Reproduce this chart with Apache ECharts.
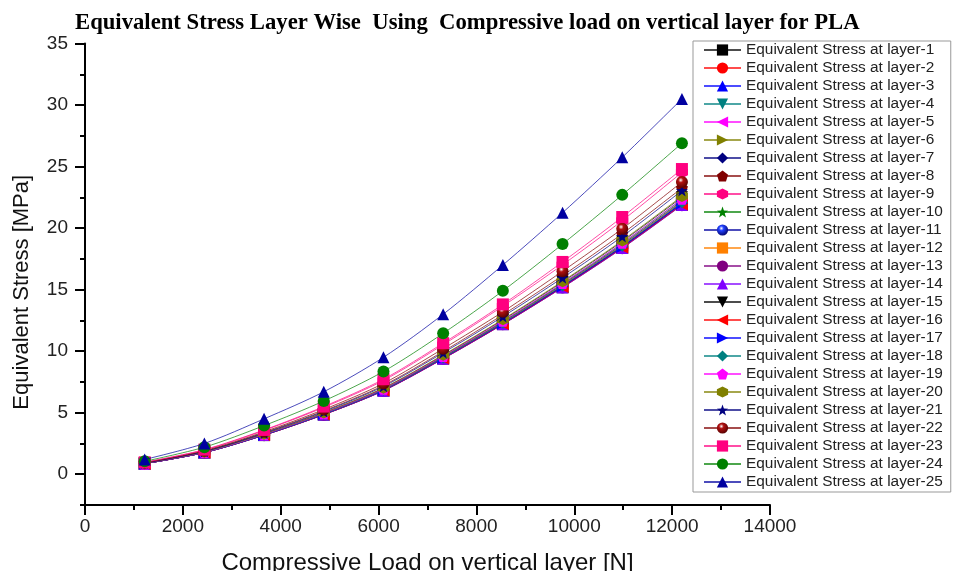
<!DOCTYPE html>
<html>
<head>
<meta charset="utf-8">
<script src="https://cdn.jsdelivr.net/npm/echarts@6/dist/echarts.min.js"></script>
<style>html,body{margin:0;padding:0;background:#fff}#c{width:956px;height:571px}</style>
</head>
<body>
<div id="c"></div>
<script>
// ---- data ----
const loads = [1220, 2440, 3660, 4880, 6100, 7320, 8540, 9760, 10980, 12200];
const layer1  = [0.86, 1.76, 3.18, 4.85, 6.80, 9.40, 12.20, 15.20, 18.40, 21.90];
const layer2  = [0.86, 1.77, 3.19, 4.86, 6.82, 9.43, 12.24, 15.25, 18.46, 21.97];
const layer3  = [0.86, 1.77, 3.20, 4.87, 6.83, 9.45, 12.26, 15.28, 18.49, 22.01];
const layer4  = [0.87, 1.77, 3.21, 4.89, 6.85, 9.48, 12.30, 15.32, 18.55, 22.08];
const layer5  = [0.87, 1.78, 3.21, 4.90, 6.87, 9.49, 12.32, 15.35, 18.58, 22.12];
const layer6  = [0.87, 1.78, 3.22, 4.91, 6.89, 9.52, 12.36, 15.40, 18.64, 22.18];
const layer7  = [0.87, 1.77, 3.20, 4.88, 6.84, 9.46, 12.27, 15.29, 18.51, 22.03];
const layer8  = [0.91, 1.87, 3.38, 5.15, 7.22, 9.98, 12.96, 16.14, 19.54, 23.26];
const layer9  = [0.96, 1.97, 3.56, 5.43, 7.62, 10.53, 13.66, 17.02, 20.61, 24.53];
const layer10 = [0.88, 1.80, 3.24, 4.95, 6.94, 9.59, 12.44, 15.50, 18.77, 22.34];
const layer11 = [0.87, 1.79, 3.23, 4.92, 6.90, 9.54, 12.38, 15.43, 18.68, 22.23];
const layer12 = [0.87, 1.78, 3.22, 4.90, 6.87, 9.50, 12.33, 15.37, 18.60, 22.14];
const layer13 = [0.86, 1.76, 3.17, 4.84, 6.79, 9.38, 12.18, 15.17, 18.36, 21.86];
const layer14 = [0.86, 1.76, 3.18, 4.85, 6.79, 9.39, 12.19, 15.18, 18.38, 21.88];
const layer15 = [0.88, 1.81, 3.27, 4.99, 6.99, 9.66, 12.54, 15.63, 18.92, 22.51];
const layer16 = [0.86, 1.76, 3.18, 4.85, 6.81, 9.41, 12.21, 15.22, 18.42, 21.92];
const layer17 = [0.86, 1.77, 3.19, 4.87, 6.83, 9.44, 12.25, 15.26, 18.47, 21.99];
const layer18 = [0.87, 1.78, 3.21, 4.89, 6.86, 9.48, 12.31, 15.34, 18.57, 22.10];
const layer19 = [0.88, 1.80, 3.25, 4.96, 6.95, 9.61, 12.47, 15.53, 18.80, 22.38];
const layer20 = [0.89, 1.82, 3.28, 5.01, 7.02, 9.70, 12.59, 15.69, 18.99, 22.60];
const layer21 = [0.90, 1.85, 3.34, 5.09, 7.14, 9.87, 12.81, 15.96, 19.32, 23.05];
const layer22 = [0.93, 1.91, 3.45, 5.26, 7.38, 10.20, 13.20, 16.50, 19.95, 23.75];
const layer23 = [0.97, 2.00, 3.60, 5.50, 7.72, 10.65, 13.80, 17.25, 20.90, 24.80];
const layer24 = [1.05, 2.20, 3.95, 5.95, 8.35, 11.45, 14.90, 18.70, 22.70, 26.90];
const layer25 = [1.20, 2.50, 4.50, 6.70, 9.50, 13.00, 17.00, 21.25, 25.75, 30.50];
const layers = [layer1, layer2, layer3, layer4, layer5, layer6, layer7, layer8, layer9, layer10,
  layer11, layer12, layer13, layer14, layer15, layer16, layer17, layer18, layer19, layer20,
  layer21, layer22, layer23, layer24, layer25];
const seriesNames = layers.map((_, i) => 'Equivalent Stress at layer-' + (i + 1));
const yMajorTicks = [0, 5, 10, 15, 20, 25, 30, 35];

// ---- styles ----
const P = {
  down: 'path://M-10,-9 L10,-9 L0,9 Z',
  left: 'path://M9,-10 L9,10 L-9,0 Z',
  right: 'path://M-9,-10 L-9,10 L9,0 Z',
  pent: 'path://M0,-10 L9.51,-3.09 L5.88,8.09 L-5.88,8.09 L-9.51,-3.09 Z',
  hex: 'path://M0,-10 L8.66,-5 L8.66,5 L0,10 L-8.66,5 L-8.66,-5 Z',
  star: 'path://M0,-10 L2.35,-3.24 L9.51,-3.09 L3.8,1.24 L5.88,8.09 L0,4 L-5.88,8.09 L-3.8,1.24 L-9.51,-3.09 L-2.35,-3.24 Z'
};
function ball(c1, c2) {
  return {type: 'radial', x: 0.4, y: 0.35, r: 0.7,
    colorStops: [{offset: 0, color: '#ffffff'}, {offset: 0.3, color: c1}, {offset: 1, color: c2}]};
}
const styles = [
  ['rect', '#000000'], ['circle', '#ff0000'], ['triangle', '#0000ff'], [P.down, '#008080'],
  [P.left, '#ff00ff'], [P.right, '#808000'], ['diamond', '#000080'], [P.pent, '#800000'],
  [P.hex, '#ff0080'], [P.star, '#008000'], ['circle', '#0000a0', ball('#2040ff', '#000060')],
  ['rect', '#ff8000'], ['circle', '#800080'], ['triangle', '#8000ff'], [P.down, '#000000'],
  [P.left, '#ff0000'], [P.right, '#0000ff'], ['diamond', '#008080'], [P.pent, '#ff00ff'],
  [P.hex, '#808000'], [P.star, '#000080'], ['circle', '#800000', ball('#b01010', '#500000')],
  ['rect', '#ff0080'], ['circle', '#008000'], ['triangle', '#0000a0']
];

const series = layers.map((arr, i) => ({
  name: seriesNames[i],
  type: 'line',
  smooth: 0.3,
  data: loads.map((x, j) => [x, arr[j]]),
  symbol: styles[i][0],
  symbolSize: 12,
  showSymbol: true,
  lineStyle: {color: styles[i][1], width: 1, opacity: 0.7},
  itemStyle: {color: styles[i][2] || styles[i][1], opacity: 1},
  emphasis: {disabled: true},
  z: 2 + i
}));

const chart = echarts.init(document.getElementById('c'), null, {renderer: 'canvas'});
chart.setOption({
  animation: false,
  backgroundColor: '#fff',
  title: {
    text: 'Equivalent Stress Layer Wise  Using  Compressive load on vertical layer for PLA',
    left: 70, top: 7,
    textStyle: {fontFamily: 'Liberation Serif', fontWeight: 'bold', fontSize: 22.7, color: '#000'}
  },
  grid: {left: 85, right: 186, top: 43.5, bottom: 66, containLabel: false, outerBoundsMode: 'none'},
  legend: {
    orient: 'vertical',
    left: 693, top: 41,
    padding: [1, 8, 2, 10],
    itemWidth: 37, itemHeight: 14, itemGap: 2,
    borderColor: '#999', borderWidth: 1,
    backgroundColor: '#fff',
    textStyle: {fontFamily: 'Liberation Sans', fontSize: 15.4, color: '#222', lineHeight: 16},
    data: seriesNames
  },
  xAxis: {
    type: 'value', min: 0, max: 14000, interval: 2000,
    name: 'Compressive Load on vertical layer [N]',
    nameLocation: 'middle', nameGap: 46,
    nameTextStyle: {fontFamily: 'Liberation Sans', fontSize: 24, color: '#111'},
    axisLine: {show: true, onZero: false, lineStyle: {color: '#000', width: 2}},
    axisTick: {show: true, inside: false, length: 10, lineStyle: {color: '#000', width: 2}},
    minorTick: {show: true, splitNumber: 2, length: 5, lineStyle: {color: '#000', width: 2}},
    axisLabel: {fontFamily: 'Liberation Sans', fontSize: 19, color: '#222', margin: 12,
      formatter: v => String(v)},
    splitLine: {show: false}
  },
  yAxis: [{
    type: 'value', min: -2.5, max: 35, interval: 2.5,
    name: 'Equivalent Stress [MPa]',
    nameLocation: 'middle', nameGap: 52,
    nameTextStyle: {fontFamily: 'Liberation Sans', fontSize: 22, color: '#111', padding: [0, 36, 0, 0]},
    axisLine: {show: true, onZero: false, lineStyle: {color: '#000', width: 2}},
    axisTick: {show: true, inside: false, length: 5, lineStyle: {color: '#000', width: 2}},
    axisLabel: {show: true, customValues: yMajorTicks, fontFamily: 'Liberation Sans', fontSize: 19, color: '#222', margin: 17},
    splitLine: {show: false}
  }, {
    type: 'value', min: -2.5, max: 35, interval: 2.5, position: 'left', offset: 0,
    axisLine: {show: false, onZero: false},
    axisTick: {show: true, inside: false, length: 10, customValues: yMajorTicks, lineStyle: {color: '#000', width: 2}},
    axisLabel: {show: false},
    splitLine: {show: false}
  }],
  series: series
});
</script>
</body>
</html>
